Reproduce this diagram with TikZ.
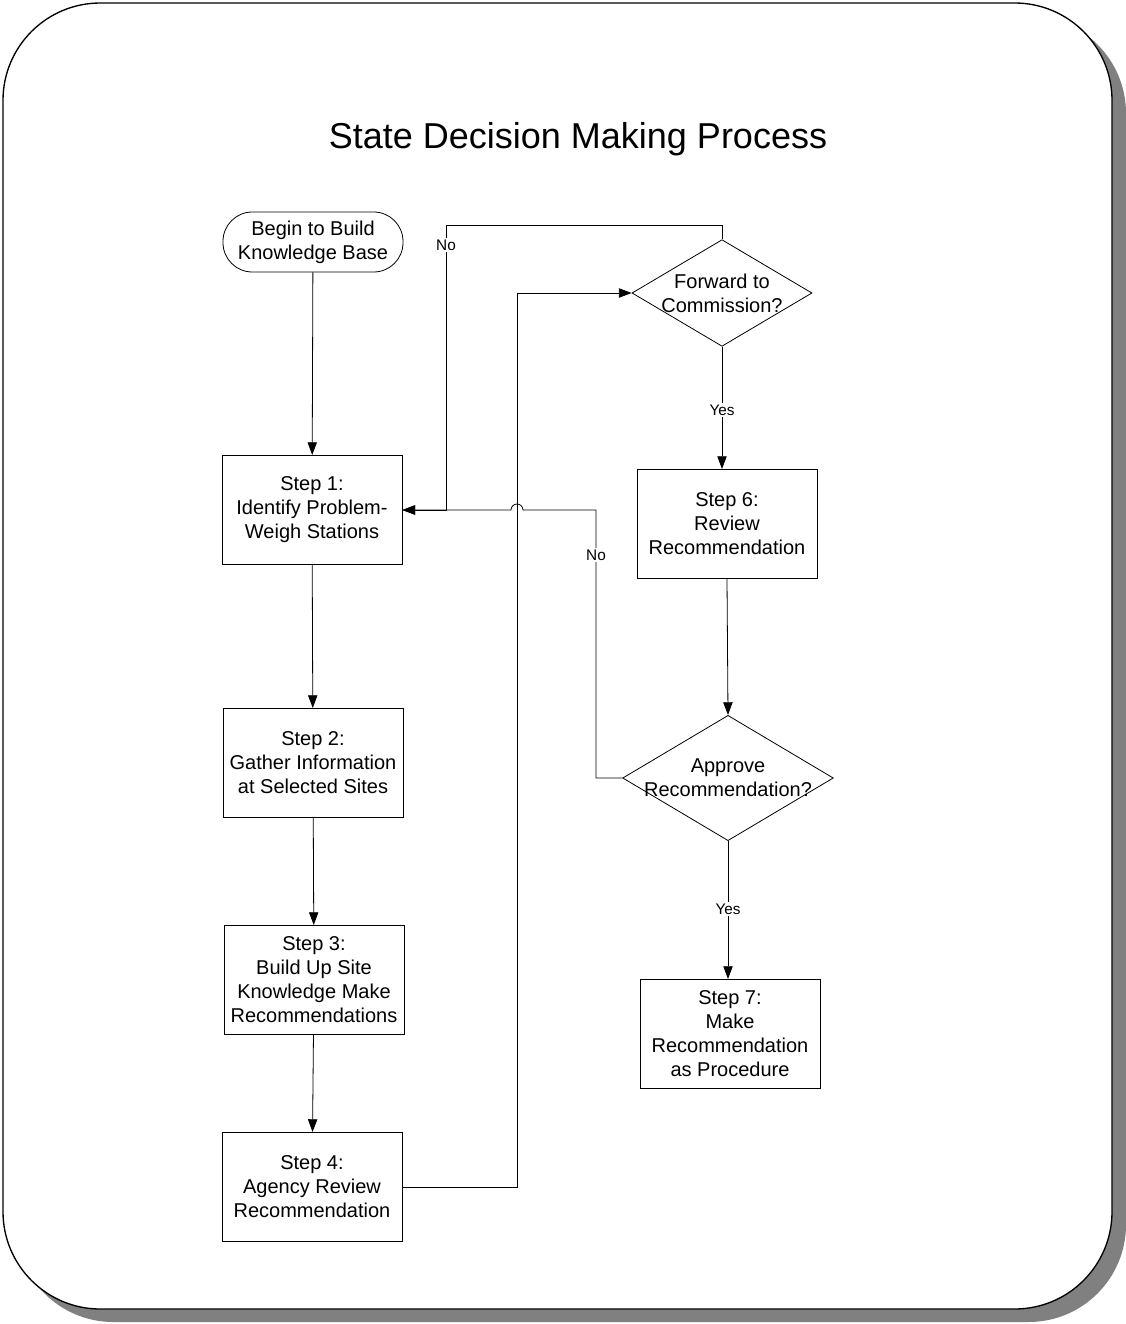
\documentclass[tikz,border=0pt]{standalone}
\usepackage{fontspec}
\setmainfont{Liberation Sans}
\usetikzlibrary{calc,shapes.geometric,arrows.meta}

\definecolor{shadowgray}{RGB}{128,128,128}

\tikzset{
  stepbox/.style={draw, line width=0.6pt, minimum width=135pt, minimum height=82pt,
    align=center, inner sep=0pt, font=\fontsize{15}{18}\selectfont},
  startbox/.style={draw, line width=0.6pt, rounded corners=22pt, minimum width=135pt,
    minimum height=45pt, align=center, inner sep=0pt, font=\fontsize{15}{18}\selectfont},
  decision/.style={draw, diamond, line width=0.6pt, inner sep=0pt},
  dectext/.style={align=center, inner sep=0pt, font=\fontsize{15}{18}\selectfont},
  lbl/.style={fill=white, inner sep=1.5pt, font=\fontsize{11.5}{13}\selectfont},
  flow/.style={line width=0.6pt, -{Triangle[length=9.5pt,width=7pt]}},
}

\begin{document}
\begin{tikzpicture}[x=0.75pt,y=0.75pt]

\useasboundingbox (0,0) rectangle (1126,-1324);

% frame with shadow
\fill[shadowgray, rounded corners=73pt] (16,-16) rectangle (1126,-1322);
\draw[fill=white, line width=1pt, rounded corners=73pt] (3,-3) rectangle (1112,-1309);

\node[font=\fontsize{27}{32}\selectfont] (title) at (578,-139) {State Decision Making Process};

% left column
\node[startbox] (start) at (313,-242) {Begin to Build\\Knowledge Base};
\node[stepbox] (step1) at (312,-510) {Step 1:\\Identify Problem-\\Weigh Stations};
\node[stepbox] (step2) at (313,-763) {Step 2:\\Gather Information\\at Selected Sites};
\node[stepbox] (step3) at (314,-980) {Step 3:\\Build Up Site\\Knowledge Make\\Recommendations};
\node[stepbox] (step4) at (312,-1187) {Step 4:\\Agency Review\\Recommendation};

% right column
\node[decision, minimum width=135pt, minimum height=80pt] (dec1) at (722,-293) {};
\node[dectext] (dec1txt) at (dec1) {Forward to\\Commission?};
\node[stepbox] (step6) at (727,-524) {Step 6:\\Review\\Recommendation};
\node[decision, minimum width=158pt, minimum height=94pt] (dec2) at (728,-778) {};
\node[dectext] (dec2txt) at (dec2) {Approve\\Recommendation?};
\node[stepbox] (step7) at (730,-1034) {Step 7:\\Make\\Recommendation\\as Procedure};

\coordinate (jog4) at (517,-293);
\coordinate (topNo) at (446,-225);
\coordinate (leftNo) at (596,-778);
\coordinate (hop) at (517,-510);

\draw[flow] (start) -- (step1);
\draw[flow] (step1) -- (step2);
\draw[flow] (step2) -- (step3);
\draw[flow] (step3) -- (step4);
\draw[flow] (step4.east) -| (jog4) -- (dec1.west);
\draw[flow] (dec1.north) |- (topNo) |- (step1.east);
\draw[flow] (dec1.south) -- (dec1.south |- step6.north);
\draw[flow] (step6.south) -- (dec2.north);
\draw[flow] (dec2.west) -- (leftNo) |- ($(hop)+(6,0)$)
  arc[start angle=0, end angle=180, radius=6] -- (step1.east);
\draw[flow] (dec2.south) -- (dec2.south |- step7.north);

\node[lbl] (no1) at (446,-245) {No};
\node[lbl] (yes1) at (722,-410) {Yes};
\node[lbl] (no2) at (596,-555) {No};
\node[lbl] (yes2) at (728,-909) {Yes};

\end{tikzpicture}
\end{document}
